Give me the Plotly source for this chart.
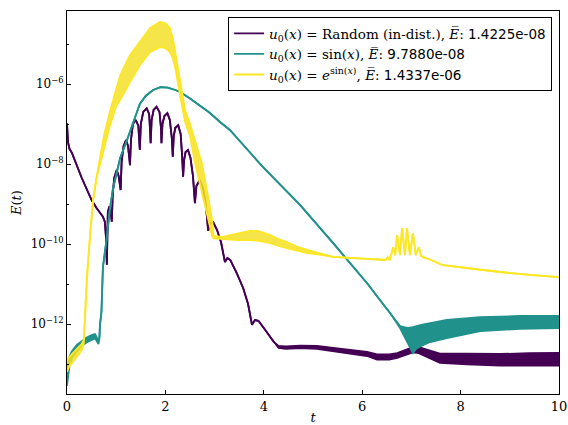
import plotly.graph_objects as go

# Error E(t) for three initial conditions, stored as log10 values.
# Where the error oscillates quickly, an upper and a lower envelope are kept;
# elsewhere both envelopes are equal and the band reduces to a line.

rand_t = [0.00, 0.02, 0.05, 0.10, 0.30, 0.50, 0.60, 0.67, 0.73, 0.77, 0.79, 0.81, 0.82, 0.83,
          0.86, 0.89, 0.91, 0.93, 0.96, 1.01, 1.05, 1.08, 1.09, 1.11, 1.15, 1.20, 1.24, 1.27,
          1.28, 1.30, 1.34, 1.40, 1.45, 1.47, 1.48, 1.50, 1.55, 1.62, 1.67, 1.69, 1.70, 1.72,
          1.76, 1.82, 1.88, 1.91, 1.92, 1.94, 1.98, 2.04, 2.09, 2.13, 2.15, 2.17, 2.20, 2.26,
          2.31, 2.34, 2.36, 2.38, 2.41, 2.46, 2.51, 2.56, 2.60, 2.63, 2.70, 2.76, 2.82, 2.87,
          2.90, 2.97, 3.05, 3.13, 3.21, 3.26, 3.32, 3.45, 3.58, 3.68, 3.76, 3.82, 3.89, 4.00,
          4.12, 4.20, 4.30, 4.45, 4.74, 5.08, 5.41, 5.75, 6.10, 6.30, 6.55, 6.71, 6.90, 7.03,
          7.15, 7.30, 7.45, 7.58, 8.13, 8.80, 9.40, 10.00]
rand_hi = [-6.98, -7.45, -7.62, -7.72, -8.35, -8.90, -9.10, -9.23, -9.32, -9.45, -9.80, -10.52, -9.60, -9.20,
           -9.06, -9.20, -9.44, -8.75, -8.35, -8.15, -8.30, -8.55, -8.65, -7.95, -7.55, -7.40, -7.55, -7.90,
           -8.03, -7.40, -7.00, -6.90, -7.05, -7.45, -7.65, -7.00, -6.70, -6.61, -6.75, -7.20, -7.48, -6.90,
           -6.65, -6.57, -6.70, -7.10, -7.48, -7.00, -6.80, -6.73, -6.90, -7.35, -7.82, -7.30, -7.10, -7.03,
           -7.25, -7.80, -8.32, -7.90, -7.70, -7.65, -7.85, -8.30, -8.98, -8.55, -8.40, -8.60, -9.00, -9.67,
           -9.50, -9.45, -9.65, -9.95, -10.45, -10.35, -10.40, -10.73, -11.10, -11.50, -12.02, -11.90, -11.92, -12.10,
           -12.30, -12.45, -12.55, -12.56, -12.54, -12.55, -12.60, -12.65, -12.70, -12.76, -12.76, -12.73, -12.64, -12.58,
           -12.58, -12.64, -12.70, -12.74, -12.74, -12.75, -12.73, -12.72]
rand_lo = [-6.98, -7.45, -7.62, -7.72, -8.35, -8.90, -9.10, -9.23, -9.32, -9.45, -9.80, -10.52, -9.60, -9.20,
           -9.06, -9.20, -9.44, -8.75, -8.35, -8.15, -8.30, -8.55, -8.65, -7.95, -7.55, -7.40, -7.55, -7.90,
           -8.03, -7.40, -7.00, -6.90, -7.05, -7.45, -7.65, -7.00, -6.70, -6.61, -6.75, -7.20, -7.48, -6.90,
           -6.65, -6.57, -6.70, -7.10, -7.48, -7.00, -6.80, -6.73, -6.90, -7.35, -7.82, -7.30, -7.10, -7.03,
           -7.25, -7.80, -8.32, -7.90, -7.70, -7.65, -7.85, -8.30, -8.98, -8.55, -8.40, -8.60, -9.00, -9.67,
           -9.50, -9.45, -9.65, -9.95, -10.45, -10.35, -10.40, -10.73, -11.10, -11.50, -12.02, -11.90, -11.92, -12.10,
           -12.30, -12.45, -12.60, -12.62, -12.60, -12.62, -12.68, -12.74, -12.80, -12.89, -12.89, -12.85, -12.76, -12.71,
           -12.73, -12.81, -12.91, -12.97, -13.01, -13.04, -13.04, -13.04]

sin_t = [0.00, 0.02, 0.05, 0.10, 0.20, 0.30, 0.40, 0.50, 0.57, 0.61, 0.64, 0.66, 0.67, 0.70,
         0.73, 0.81, 0.87, 0.93, 1.00, 1.08, 1.22, 1.38, 1.48, 1.60, 1.75, 1.90, 2.05, 2.20,
         2.30, 2.50, 2.70, 2.90, 3.11, 3.31, 4.00, 4.74, 5.41, 6.10, 6.36, 6.57, 6.77, 6.85,
         6.93, 7.03, 7.10, 7.20, 7.38, 7.72, 8.40, 9.20, 10.00]
sin_hi = [-13.30, -13.00, -12.82, -12.68, -12.52, -12.42, -12.34, -12.28, -12.25, -12.35, -12.42, -12.30, -12.00, -11.70,
          -10.58, -9.83, -9.15, -8.65, -8.25, -7.85, -7.40, -6.85, -6.50, -6.30, -6.15, -6.08, -6.09, -6.15,
          -6.20, -6.36, -6.53, -6.72, -6.95, -7.15, -8.10, -9.03, -9.98, -10.98, -11.40, -11.73, -12.05, -12.08,
          -12.10, -12.08, -12.05, -12.02, -11.98, -11.90, -11.83, -11.80, -11.80]
sin_lo = [-13.55, -13.35, -13.05, -12.85, -12.68, -12.56, -12.46, -12.40, -12.36, -12.44, -12.50, -12.35, -12.05, -11.70,
          -10.58, -9.83, -9.15, -8.65, -8.25, -7.85, -7.40, -6.85, -6.50, -6.30, -6.15, -6.08, -6.09, -6.15,
          -6.20, -6.36, -6.53, -6.72, -6.95, -7.15, -8.10, -9.03, -9.98, -10.98, -11.40, -11.73, -12.10, -12.30,
          -12.50, -12.73, -12.62, -12.55, -12.45, -12.35, -12.18, -12.12, -12.10]

exp_t = [0.00, 0.05, 0.10, 0.20, 0.30, 0.34, 0.36, 0.40, 0.43, 0.48, 0.53, 0.60, 0.67, 0.75,
         0.87, 1.00, 1.08, 1.28, 1.48, 1.69, 1.89, 2.00, 2.09, 2.15, 2.20, 2.30, 2.40, 2.50,
         2.60, 2.74, 2.87, 2.95, 2.98, 3.17, 3.46, 3.72, 3.90, 4.13, 4.30, 4.47, 4.70, 4.88,
         5.10, 5.41, 6.10, 6.48, 6.52, 6.56, 6.63, 6.67, 6.71, 6.77, 6.81, 6.87, 6.91, 6.97,
         7.03, 7.09, 7.15, 7.20, 7.24, 7.40, 7.64, 7.90, 8.13, 8.80, 9.47, 10.00]
exp_hi = [-12.90, -12.82, -12.75, -12.62, -12.50, -12.40, -11.90, -10.90, -10.40, -9.60, -8.90, -8.35, -7.90, -7.30,
          -6.70, -6.10, -5.78, -5.28, -4.95, -4.60, -4.45, -4.48, -4.60, -4.85, -5.20, -5.95, -6.65, -7.00,
          -7.40, -7.98, -8.83, -9.40, -9.80, -9.82, -9.74, -9.67, -9.68, -9.78, -9.88, -9.95, -10.08, -10.15,
          -10.22, -10.32, -10.37, -10.40, -10.33, -10.40, -10.08, -10.28, -9.78, -10.28, -9.60, -10.28, -9.60, -10.28,
          -9.73, -10.28, -10.08, -10.30, -10.33, -10.40, -10.53, -10.57, -10.60, -10.70, -10.78, -10.83]
exp_lo = [-13.20, -13.05, -12.98, -12.82, -12.65, -12.50, -11.90, -10.90, -10.40, -9.60, -8.90, -8.35, -8.00, -7.60,
          -7.05, -6.55, -6.40, -5.95, -5.53, -5.20, -5.08, -5.10, -5.20, -5.35, -5.60, -6.30, -6.95, -7.30,
          -7.95, -8.70, -9.40, -9.80, -9.86, -9.88, -9.90, -9.90, -9.92, -9.98, -10.05, -10.10, -10.18, -10.23,
          -10.26, -10.32, -10.37, -10.40, -10.33, -10.40, -10.08, -10.28, -9.78, -10.28, -9.60, -10.28, -9.60, -10.28,
          -9.73, -10.28, -10.08, -10.30, -10.33, -10.40, -10.53, -10.57, -10.60, -10.70, -10.78, -10.83]

series = [
    ("<i>u</i><sub>0</sub>(<i>x</i>) = Random (in-dist.), <i>E\u0305</i>: "
     "<span style='font-family:DejaVu Sans'>1.4225e-08</span>",
     "#440154", "rgba(68,1,84,1)", rand_t, rand_hi, rand_lo),
    ("<i>u</i><sub>0</sub>(<i>x</i>) = sin(<i>x</i>), <i>E\u0305</i>: "
     "<span style='font-family:DejaVu Sans'>9.7880e-08</span>",
     "#21918c", "rgba(33,145,140,1)", sin_t, sin_hi, sin_lo),
    ("<i>u</i><sub>0</sub>(<i>x</i>) = <i>e</i><sup>sin(<i>x</i>)</sup>, <i>E\u0305</i>: "
     "<span style='font-family:DejaVu Sans'>1.4337e-06</span>",
     "#fde725", "rgba(245,225,40,0.85)", exp_t, exp_hi, exp_lo),
]

fig = go.Figure()
for name, color, band, t, hi, lo in series:
    fig.add_trace(go.Scatter(
        x=t, y=[10 ** v for v in hi], mode="lines", name=name,
        line=dict(color=color, width=1.8),
    ))
    fig.add_trace(go.Scatter(
        x=t, y=[10 ** v for v in lo], mode="lines", showlegend=False,
        line=dict(color=color, width=1.8), fill="tonexty", fillcolor=band,
        hoverinfo="skip",
    ))

serif = "DejaVu Serif"
fig.update_layout(
    width=568, height=425,
    margin=dict(l=67, r=9, t=11, b=31),
    paper_bgcolor="white", plot_bgcolor="white",
    font=dict(family=serif, size=12, color="black"),
    showlegend=True,
    legend=dict(
        x=0.986, y=0.984, xanchor="right", yanchor="top",
        bgcolor="white", bordercolor="black", borderwidth=1,
        font=dict(family=serif, size=13.5),
        traceorder="normal", tracegroupgap=0,
    ),
    xaxis=dict(
        range=[0, 10], tickvals=[0, 2, 4, 6, 8, 10], automargin=False,
        ticks="inside", ticklen=4, tickcolor="black",
        showline=True, linecolor="black", linewidth=1, mirror=True,
        showgrid=False, zeroline=False,
        tickfont=dict(family=serif, size=13),
        title=dict(text="<i>t</i>", font=dict(family=serif, size=13), standoff=4),
    ),
    yaxis=dict(
        type="log", range=[-13.75, -4.175], automargin=False,
        tickvals=[1e-12, 1e-10, 1e-8, 1e-6],
        ticktext=["10<sup>\u221212</sup>", "10<sup>\u221210</sup>",
                  "10<sup>\u22128</sup>", "10<sup>\u22126</sup>"],
        ticks="inside", ticklen=4, tickcolor="black",
        minor=dict(tickvals=[1e-13, 1e-11, 1e-9, 1e-7, 1e-5], ticks="inside",
                   ticklen=2, tickcolor="black", showgrid=False),
        showline=True, linecolor="black", linewidth=1, mirror=True,
        showgrid=False, zeroline=False,
        tickfont=dict(family=serif, size=12),
        title=dict(text="<i>E</i>(<i>t</i>)", font=dict(family=serif, size=13), standoff=6),
    ),
)

fig.write_html("out.html")
